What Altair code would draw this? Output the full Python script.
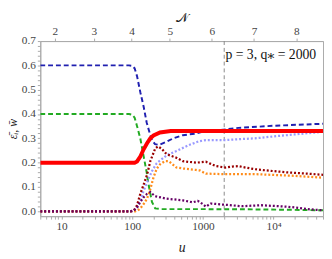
import altair as alt
import pandas as pd

# ---- data ----
u_blue = [5, 90, 100, 108, 117, 130, 145, 160, 180, 190, 210, 240, 306, 380, 520, 800, 990, 2090, 3200, 10300, 50000]
v_blue = [0.6, 0.6, 0.598, 0.588, 0.555, 0.49, 0.43, 0.365, 0.313, 0.293, 0.276, 0.273, 0.286, 0.3, 0.313, 0.32, 0.327, 0.337, 0.343, 0.352, 0.36]

u_green = [5, 90, 100, 108, 117, 130, 145, 160, 171, 190, 211, 260, 1000, 5000, 20000, 50000]
v_green = [0.4, 0.4, 0.397, 0.385, 0.35, 0.3, 0.226, 0.16, 0.106, 0.039, 0.012, 0.009, 0.009, 0.008, 0.006, 0.004]

u_red = [5, 108, 117, 130, 145, 162, 180, 200, 247, 350, 50000]
v_red = [0.2, 0.2, 0.205, 0.225, 0.255, 0.28, 0.3, 0.312, 0.324, 0.33, 0.33]

u_lblue = [5, 100, 110, 117, 130, 145, 171, 190, 222, 306, 422, 640, 880, 1100, 2090, 3500, 5440, 10000, 19600, 50000]
v_lblue = [0, 0, 0.008, 0.02, 0.045, 0.085, 0.135, 0.165, 0.198, 0.23, 0.248, 0.273, 0.288, 0.293, 0.293, 0.297, 0.3, 0.308, 0.316, 0.327]

u_dred = [5, 95, 106, 117, 130, 145, 162, 180, 211, 230, 260, 306, 422, 522, 800, 1100, 1290, 1520, 2090, 2600, 3160, 4000, 5440, 8000, 15800, 30000, 50000]
v_dred = [0, 0, 0.005, 0.025, 0.072, 0.11, 0.15, 0.206, 0.258, 0.267, 0.258, 0.235, 0.22, 0.206, 0.2, 0.204, 0.195, 0.186, 0.18, 0.184, 0.186, 0.18, 0.173, 0.168, 0.16, 0.155, 0.15]

u_orange = [5, 110, 120, 130, 145, 162, 180, 200, 222, 247, 287, 330, 422, 522, 800, 900, 1100, 1880, 5440, 19600, 50000]
v_orange = [0, 0, 0.004, 0.012, 0.03, 0.052, 0.09, 0.14, 0.175, 0.193, 0.206, 0.206, 0.18, 0.176, 0.17, 0.168, 0.155, 0.153, 0.153, 0.146, 0.138]

u_purple = [5, 95, 106, 117, 130, 145, 162, 180, 211, 306, 522, 720, 845, 990, 1100, 1290, 1880, 3560, 6740, 15800, 33400, 50000]
v_purple = [0, 0, 0.004, 0.015, 0.039, 0.058, 0.072, 0.079, 0.062, 0.052, 0.045, 0.037, 0.043, 0.03, 0.019, 0.032, 0.028, 0.021, 0.025, 0.019, 0.008, 0.004]

q_star = 2000
N_labels = ["2", "3", "4", "5", "6", "7", "8"]
N_pos_u = [8, 28.7, 98, 341, 1334, 5270, 20900]

x_major = [10, 100, 1000, 10000]
x_major_labels = ["10", "100", "1000", "10⁴"]

FONT = "Liberation Serif, Times New Roman, DejaVu Serif, serif"
GRAY = "#aaaaaa"

x_minor = []
for dec in [1, 10, 100, 1000, 10000]:
    for m in range(1, 10):
        v = m * dec
        if 5 <= v <= 50000:
            x_minor.append(v)

y_ticks = [round(i * 0.02, 2) for i in range(0, 36)]

x_label_expr = " : ".join(
    f"datum.value == {v} ? '{l}'" for v, l in zip(x_major, x_major_labels)
) + " : ''"
n_label_expr = " : ".join(
    f"datum.value < {((N_pos_u[i] * N_pos_u[i+1]) ** 0.5):.3f} ? '{N_labels[i]}'" for i in range(len(N_labels) - 1)
) + f" : '{N_labels[-1]}'"

xscale = alt.Scale(type="log", domain=[5, 50000], nice=False)
yscale = alt.Scale(domain=[-0.02, 0.7], nice=False, zero=False)

x_axis = alt.Axis(values=x_minor, labelExpr=x_label_expr, title="u", titleFontStyle="italic",
                  titleFont=FONT, titleFontSize=14, titleFontWeight="normal", titlePadding=9,
                  tickSize=3, labelFlush=False, labelOverlap=False, grid=False)
y_axis = alt.Axis(values=y_ticks,
                  labelExpr="abs(round(datum.value*10) - datum.value*10) < 0.001 ? format(datum.value, '.1f') : ''",
                  title="ε̄ᵢ, w̄", titleFontStyle="italic", titleFont=FONT, titleFontSize=12,
                  titleFontWeight="normal", titlePadding=2, tickSize=3, grid=False, labelOverlap=False,
                  labelFlush=False)
top_axis = alt.Axis(orient="top", values=N_pos_u, labelExpr=n_label_expr, title="𝒩",
                    titleFont=FONT, titleFontSize=13, titleFontWeight="normal", titlePadding=1,
                    tickSize=3, grid=False, labelFlush=False, labelOverlap=False)

series = [
    (u_green, v_green, "#22aa22", [5, 3], 2),
    (u_blue, v_blue, "#2020b0", [5, 3], 2),
    (u_lblue, v_lblue, "#9999ff", [2, 2], 2.3),
    (u_orange, v_orange, "#ff8c1a", [2, 2], 2.3),
    (u_dred, v_dred, "#990000", [2, 2], 2.3),
    (u_purple, v_purple, "#660066", [2, 2], 2.3),
    (u_red, v_red, "#ff0000", None, 4),
]

layers = []
for i, (us, vs, col, dash, w) in enumerate(series):
    df = pd.DataFrame({"u": us, "v": vs})
    kw = dict(color=col, strokeWidth=w, clip=True)
    if dash:
        kw["strokeDash"] = dash
    layers.append(
        alt.Chart(df).mark_line(**kw).encode(
            x=alt.X("u:Q", scale=xscale, axis=x_axis if i == 0 else None),
            y=alt.Y("v:Q", scale=yscale, axis=y_axis),
        )
    )

rule = alt.Chart(pd.DataFrame({"u": [q_star]})).mark_rule(
    color="#888888", strokeDash=[4, 3], strokeWidth=1
).encode(x=alt.X("u:Q", scale=xscale, axis=top_axis))

label = alt.Chart(pd.DataFrame({"t": ["p = 3, q⁎ = 2000"]})).mark_text(
    align="right", baseline="middle", font=FONT, fontSize=14, color="#111111"
).encode(x=alt.value(282), y=alt.value(14), text="t:N")

chart = alt.layer(rule, *layers, label).resolve_axis(x="independent").properties(
    width=289, height=179,
    autosize=alt.AutoSizeParams(type="none"),
    padding={"left": 33, "top": 31, "right": 1, "bottom": 42},
).configure(font=FONT).configure_view(stroke=GRAY).configure_axis(
    labelFont=FONT, labelFontSize=11.5, labelColor="#444444", domainColor=GRAY,
    tickColor=GRAY, titleColor="#222222", labelPadding=2
)

chart.save("out.html", embed_options={"renderer": "svg", "actions": False})
